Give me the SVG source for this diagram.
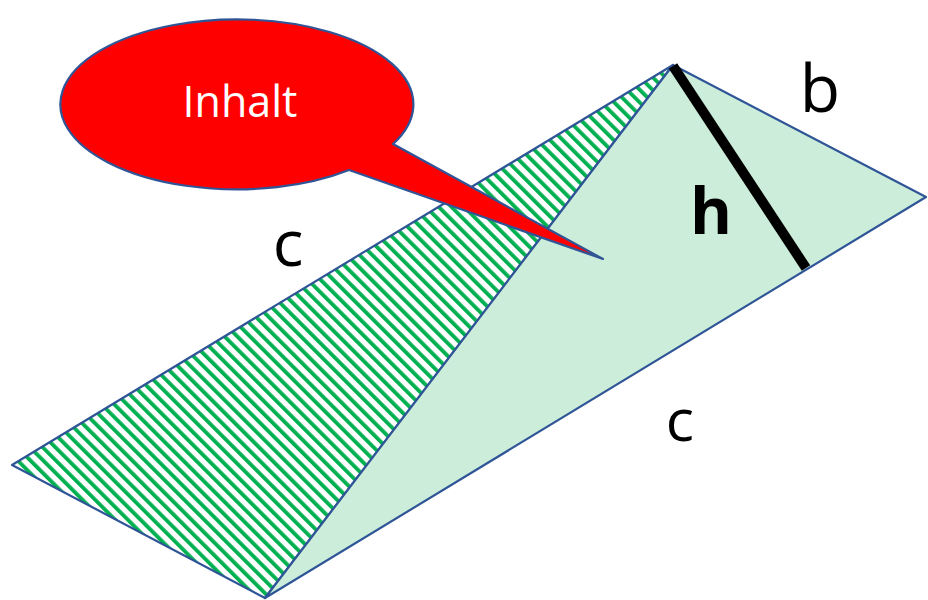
<svg xmlns="http://www.w3.org/2000/svg" width="928" height="600" viewBox="0 0 928 600">
  <style>
    .edge { stroke: #2F5597; stroke-width: 2.2; stroke-linejoin: round; }
    .lbl { font-family: "Open Sans", "Liberation Sans", sans-serif; fill: #000000; text-anchor: middle; }
  </style>
  <defs>
    <pattern id="hatch" patternUnits="userSpaceOnUse" width="9" height="9" patternTransform="rotate(-45)">
      <rect x="0" y="0" width="9" height="9" fill="#FFFFFF"/>
      <rect x="0" y="0" width="3.8" height="9" fill="#00B050"/>
    </pattern>
  </defs>
  <rect width="928" height="600" fill="#FFFFFF"/>
  <g id="left-triangle">
    <polygon class="edge" points="12,465 673,65 265,598" fill="url(#hatch)"/>
  </g>
  <g id="right-triangle">
    <polygon class="edge" points="673,65 926,197 265,598" fill="#CBEDDA"/>
  </g>
  <g id="height-line">
    <line x1="673" y1="66" x2="806" y2="268" stroke="#000000" stroke-width="10"/>
  </g>
  <g id="labels">
    <text class="lbl" x="288" y="266" font-size="64">c</text>
    <text class="lbl" x="680" y="441" font-size="59">c</text>
    <text class="lbl" x="820" y="112" font-size="66">b</text>
    <text class="lbl" x="711" y="234" font-size="64" font-weight="bold">h</text>
  </g>
  <g id="bubble">
    <path class="edge" d="M 393,144 L 603,259 L 349,170 A 176.5 85 0 1 1 393,144 Z" fill="#FF0000"/>
    <text x="240" y="117" font-family="Open Sans, Liberation Sans, sans-serif" font-size="43" fill="#FFFFFF" text-anchor="middle">Inhalt</text>
  </g>
</svg>
